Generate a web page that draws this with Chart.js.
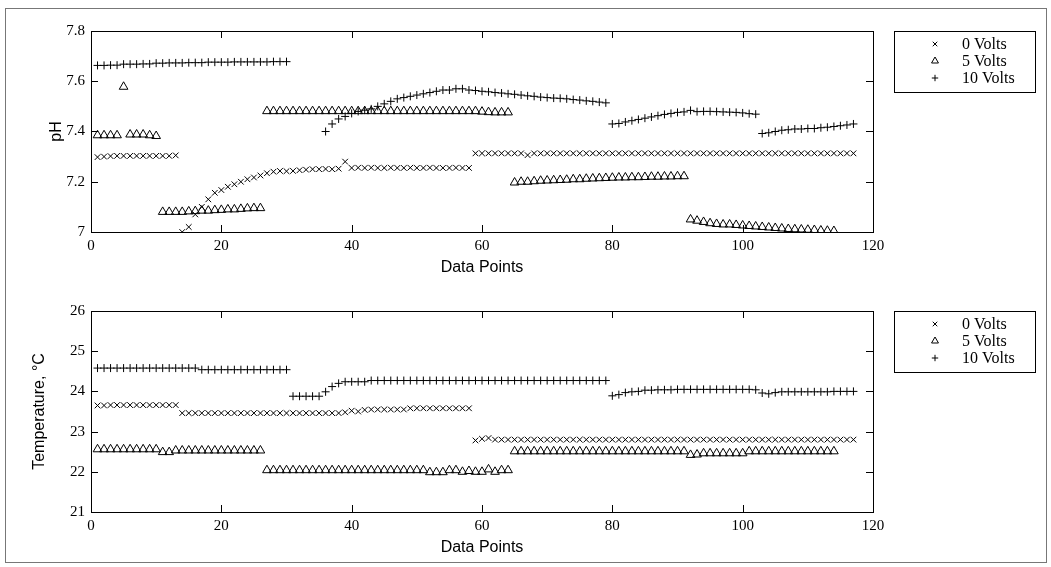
<!DOCTYPE html>
<html lang="en">
<head>
<meta charset="UTF-8">
<title>pH and Temperature</title>
<script src="https://cdn.jsdelivr.net/npm/chart.js"></script>
<style>
    body{margin:0; background:#fff;}
    #fig{position:relative; width:1051px; height:567px; overflow:hidden;}
    #fig canvas{position:absolute; left:0;}
    #phBox{top:0;}
    #tempBox{top:280px;}
    #frame{position:absolute; left:5px; top:8px; width:1040px; height:553px; border:1px solid #777; pointer-events:none;}
</style>
</head>
<body>
<div id="fig">
    <canvas id="phBox" width="1051" height="280"></canvas>
    <canvas id="tempBox" width="1051" height="287"></canvas>
    <div id="frame"></div>
</div>
<script>
// runs: [first data point, values...]
const seriesNames = ['0 Volts', '5 Volts', '10 Volts'];
const xTicks = [0, 20, 40, 60, 80, 100, 120];
const phTicks = [7, 7.2, 7.4, 7.6, 7.8];
const tempTicks = [21, 22, 23, 24, 25, 26];

// pH, 0 Volts
const ph0 = [
    [1, [7.298, 7.300, 7.302, 7.303, 7.303, 7.303, 7.303, 7.303, 7.303, 7.303, 7.303, 7.303, 7.305]],
    [14, [7.00, 7.02, 7.07, 7.10, 7.13, 7.156, 7.167, 7.18, 7.19, 7.20, 7.21, 7.217, 7.225, 7.234, 7.24, 7.243,
          7.242, 7.243, 7.246, 7.248, 7.250, 7.250, 7.251, 7.250, 7.252, 7.28,
          7.255, 7.256, 7.255, 7.256, 7.255, 7.255, 7.256, 7.255, 7.255, 7.256, 7.255, 7.255, 7.256, 7.255, 7.255, 7.255, 7.256, 7.255, 7.255]],
    [59, [7.313, 7.313, 7.313, 7.313, 7.313, 7.313, 7.313, 7.313, 7.306, 7.313, 7.313, 7.313, 7.313, 7.313, 7.313, 7.313, 7.313, 7.313, 7.313, 7.313,
          7.313, 7.313, 7.313, 7.313, 7.313, 7.313, 7.313, 7.313, 7.313, 7.313, 7.313, 7.313, 7.313, 7.313, 7.313, 7.313, 7.313, 7.313, 7.313, 7.313,
          7.313, 7.313, 7.313, 7.313, 7.313, 7.313, 7.313, 7.313, 7.313, 7.313, 7.313, 7.313, 7.313, 7.313, 7.313, 7.313, 7.313, 7.313, 7.313]]
];
// pH, 5 Volts
const ph5 = [
    [1, [7.385, 7.385, 7.385, 7.385, 7.578, 7.388, 7.388, 7.388, 7.385, 7.382]],
    [11, [7.080, 7.080, 7.080, 7.080, 7.082, 7.083, 7.085, 7.085, 7.087, 7.088, 7.090, 7.090, 7.092, 7.094, 7.095, 7.095]],
    [27, [7.481, 7.481, 7.481, 7.481, 7.481, 7.481, 7.481, 7.481, 7.481, 7.481, 7.481, 7.481, 7.481, 7.481, 7.481, 7.481, 7.481, 7.481, 7.481,
          7.481, 7.481, 7.481, 7.481, 7.481, 7.481, 7.481, 7.481, 7.481, 7.481, 7.481, 7.481, 7.481, 7.481, 7.479, 7.477, 7.476, 7.476, 7.476]],
    [65, [7.197, 7.200, 7.200, 7.202, 7.204, 7.205, 7.206, 7.207, 7.208, 7.210, 7.210, 7.212, 7.213, 7.214, 7.215, 7.216, 7.217, 7.217,
          7.218, 7.218, 7.219, 7.220, 7.220, 7.221, 7.221, 7.222, 7.222]],
    [92, [7.050, 7.045, 7.040, 7.035, 7.032, 7.030, 7.030, 7.028, 7.026, 7.024, 7.022, 7.020, 7.018, 7.016, 7.014, 7.012, 7.011, 7.010,
          7.009, 7.008, 7.006, 7.005, 7.004]]
];
// pH, 10 Volts
const ph10 = [
    [1, [7.663, 7.663, 7.664, 7.664, 7.668, 7.668, 7.668, 7.669, 7.669, 7.672, 7.672, 7.673, 7.673, 7.673, 7.674, 7.674, 7.674, 7.676,
         7.676, 7.676, 7.676, 7.677, 7.677, 7.677, 7.677, 7.677, 7.677, 7.678, 7.678, 7.678]],
    [36, [7.400, 7.430, 7.450, 7.460, 7.472, 7.480, 7.485, 7.490, 7.500, 7.510, 7.520, 7.530, 7.535, 7.540, 7.545, 7.550, 7.555, 7.560,
          7.565, 7.565, 7.570, 7.570, 7.565, 7.563, 7.560, 7.558, 7.555, 7.553, 7.550, 7.548, 7.545, 7.542, 7.540, 7.537, 7.535, 7.533,
          7.532, 7.530, 7.527, 7.525, 7.522, 7.520, 7.517, 7.514]],
    [80, [7.430, 7.432, 7.438, 7.443, 7.448, 7.453, 7.458, 7.463, 7.468, 7.472, 7.476, 7.478, 7.484, 7.479, 7.480, 7.480, 7.479, 7.478,
          7.477, 7.476, 7.474, 7.471, 7.469]],
    [103, [7.392, 7.395, 7.400, 7.405, 7.407, 7.410, 7.410, 7.412, 7.412, 7.415, 7.417, 7.420, 7.423, 7.426, 7.430]]
];

// Temperature, 0 Volts
const temp0 = [
    [1, [23.65, 23.65, 23.66, 23.66, 23.66, 23.66, 23.66, 23.66, 23.66, 23.66, 23.66, 23.66, 23.66]],
    [14, [23.46, 23.46, 23.46, 23.46, 23.46, 23.46, 23.46, 23.46, 23.46, 23.46, 23.46, 23.46, 23.46, 23.46, 23.46, 23.46, 23.46, 23.46,
          23.46, 23.46, 23.46, 23.46, 23.46, 23.46, 23.46, 23.48, 23.52, 23.50, 23.54, 23.55, 23.55, 23.55, 23.55, 23.55, 23.55, 23.58,
          23.58, 23.58, 23.58, 23.58, 23.58, 23.58, 23.58, 23.58, 23.58]],
    [59, [22.78, 22.82, 22.84, 22.80, 22.80, 22.80, 22.80, 22.80, 22.80, 22.80, 22.80, 22.80, 22.80, 22.80, 22.80, 22.80, 22.80, 22.80,
          22.80, 22.80, 22.80, 22.80, 22.80, 22.80, 22.80, 22.80, 22.80, 22.80, 22.80, 22.80, 22.80, 22.80, 22.80, 22.80, 22.80, 22.80,
          22.80, 22.80, 22.80, 22.80, 22.80, 22.80, 22.80, 22.80, 22.80, 22.80, 22.80, 22.80, 22.80, 22.80, 22.80, 22.80, 22.80, 22.80,
          22.80, 22.80, 22.80, 22.80, 22.80]]
];
// Temperature, 5 Volts
const temp5 = [
    [1, [22.56, 22.56, 22.56, 22.56, 22.56, 22.56, 22.56, 22.56, 22.56, 22.56, 22.49, 22.49, 22.53, 22.53, 22.53, 22.53, 22.53, 22.53,
         22.53, 22.53, 22.53, 22.53, 22.53, 22.53, 22.53, 22.53]],
    [27, [22.04, 22.04, 22.04, 22.04, 22.04, 22.04, 22.04, 22.04, 22.04, 22.04, 22.04, 22.04, 22.04, 22.04, 22.04, 22.04, 22.04, 22.04,
          22.04, 22.04, 22.04, 22.04, 22.04, 22.04, 22.04, 21.99, 21.99, 21.99, 22.04, 22.04, 22.00, 22.02, 22.00, 22.00, 22.06, 22.00,
          22.04, 22.04]],
    [65, [22.51, 22.51, 22.51, 22.51, 22.51, 22.51, 22.51, 22.51, 22.51, 22.51, 22.51, 22.51, 22.51, 22.51, 22.51, 22.51, 22.51, 22.51,
          22.51, 22.51, 22.51, 22.51, 22.51, 22.51, 22.51, 22.51, 22.51, 22.42, 22.43, 22.46, 22.46, 22.46, 22.46, 22.46, 22.46, 22.46,
          22.51, 22.51, 22.51, 22.51, 22.51, 22.51, 22.51, 22.51, 22.51, 22.51, 22.51, 22.51, 22.51, 22.51]]
];
// Temperature, 10 Volts
const temp10 = [
    [1, [24.58, 24.58, 24.58, 24.58, 24.58, 24.58, 24.58, 24.58, 24.58, 24.58, 24.58, 24.58, 24.58, 24.58, 24.58, 24.58, 24.54, 24.54,
         24.54, 24.54, 24.54, 24.54, 24.54, 24.54, 24.54, 24.54, 24.54, 24.54, 24.54, 24.54]],
    [31, [23.88, 23.88, 23.88, 23.88, 23.88, 23.99, 24.12, 24.20, 24.24, 24.24, 24.24, 24.24, 24.27, 24.27, 24.27, 24.27, 24.27, 24.27,
          24.27, 24.27, 24.27, 24.27, 24.27, 24.27, 24.27, 24.27, 24.27, 24.27, 24.27, 24.27, 24.27, 24.27, 24.27, 24.27, 24.27, 24.27,
          24.27, 24.27, 24.27, 24.27, 24.27, 24.27, 24.27, 24.27, 24.27, 24.27, 24.27, 24.27, 24.27]],
    [80, [23.89, 23.92, 23.97, 23.99, 24.00, 24.03, 24.03, 24.04, 24.04, 24.04, 24.05, 24.05, 24.05, 24.05, 24.05, 24.05, 24.05, 24.05,
          24.05, 24.05, 24.05, 24.05, 24.04]],
    [103, [23.96, 23.94, 23.97, 23.99, 23.99, 23.99, 23.99, 23.99, 23.99, 23.99, 23.99, 24.00, 24.00, 24.00, 24.00]]
];

const markers = [
    {pointStyle: 'crossRot', radius: 4},
    {pointStyle: 'triangle', radius: 5},
    {pointStyle: 'cross', radius: 4}
];

function toPoints(runs){
    let pts = [];
    runs.forEach(function(run){
        run[1].forEach(function(v, i){ pts.push({x: run[0] + i, y: v}); });
    });
    return pts;
}

// box round the axes, inward ticks on all four sides, and a boxed legend
const matFrame = {
    id: 'matFrame',
    afterDatasetsDraw(chart){
        const ctx = chart.ctx, a = chart.chartArea;
        const xs = chart.scales.x, ys = chart.scales.y;
        const tl = 7;
        ctx.save();
        ctx.strokeStyle = '#000';
        ctx.lineWidth = 1;
        ctx.strokeRect(Math.round(a.left) + 0.5, Math.round(a.top) + 0.5, Math.round(a.right - a.left), Math.round(a.bottom - a.top));
        ctx.beginPath();
        xTicks.forEach(function(v){
            const px = Math.round(xs.getPixelForValue(v)) + 0.5;
            ctx.moveTo(px, a.bottom); ctx.lineTo(px, a.bottom - tl);
            ctx.moveTo(px, a.top); ctx.lineTo(px, a.top + tl);
        });
        ys.ticks.forEach(function(t){
            const py = Math.round(ys.getPixelForValue(t.value)) + 0.5;
            ctx.moveTo(a.left, py); ctx.lineTo(a.left + tl, py);
            ctx.moveTo(a.right, py); ctx.lineTo(a.right - tl, py);
        });
        ctx.stroke();

        // legend
        const lg = chart.options.plugins.matFrame;
        ctx.fillStyle = '#fff';
        ctx.fillRect(lg.left, lg.top, lg.width, lg.height);
        ctx.strokeRect(lg.left + 0.5, lg.top + 0.5, lg.width, lg.height);
        ctx.font = '16px "Liberation Serif"';
        ctx.textBaseline = 'middle';
        chart.data.datasets.forEach(function(ds, i){
            const y = lg.top + 13 + i * 17;
            ctx.fillStyle = 'rgba(0,0,0,0)';
            ctx.strokeStyle = '#000';
            Chart.helpers.drawPoint(ctx, {pointStyle: ds.pointStyle, radius: ds.pointRadius * 0.8, rotation: 0, borderWidth: 1}, lg.left + 41, y);
            ctx.fillStyle = '#000';
            ctx.fillText(ds.label, lg.left + 68, y + 1);
        });
        ctx.restore();
    }
};

function makeChart(id, runsList, yMin, yMax, yTicks, yTitle, titlePad, bottomH, bottomPad){
    const datasets = runsList.map(function(runs, i){
        return {
            label: seriesNames[i],
            data: toPoints(runs),
            pointStyle: markers[i].pointStyle,
            pointRadius: markers[i].radius,
            pointBorderWidth: 1,
            borderColor: '#000',
            backgroundColor: 'rgba(0,0,0,0)',
            showLine: false
        };
    });
    return new Chart(document.getElementById(id), {
        type: 'scatter',
        data: {datasets: datasets},
        plugins: [matFrame],
        options: {
            responsive: false,
            animation: false,
            layout: {padding: {left: 0, right: 178, top: 31, bottom: 0}},
            plugins: {
                legend: {display: false},
                tooltip: {enabled: false},
                matFrame: {left: 894, top: 31, width: 141, height: 61}
            },
            scales: {
                x: {
                    type: 'linear', min: 0, max: 120,
                    afterBuildTicks: function(s){ s.ticks = xTicks.map(function(v){ return {value: v}; }); },
                    grid: {display: false, drawTicks: false},
                    border: {display: false},
                    ticks: {color: '#000', padding: 5, maxRotation: 0, font: {family: 'Liberation Serif', size: 15}},
                    title: {display: true, text: 'Data Points', color: '#000', padding: {top: 0, bottom: bottomPad},
                            font: {family: 'Liberation Sans', size: 16}},
                    afterFit: function(s){ s.height = bottomH; }
                },
                y: {
                    min: yMin, max: yMax,
                    afterBuildTicks: function(s){ s.ticks = yTicks.map(function(v){ return {value: v}; }); },
                    grid: {display: false, drawTicks: false},
                    border: {display: false},
                    ticks: {color: '#000', padding: 6, font: {family: 'Liberation Serif', size: 15},
                            callback: function(v){ return String(+v.toFixed(1)); }},
                    title: {display: true, text: yTitle, color: '#000', padding: {top: titlePad, bottom: 0},
                            font: {family: 'Liberation Sans', size: 16}},
                    afterFit: function(s){ s.width = 91; }
                }
            }
        }
    });
}

makeChart('phBox', [ph0, ph5, ph10], 7, 7.8, phTicks, 'pH', 47, 48, 2.4);
makeChart('tempBox', [temp0, temp5, temp10], 21, 26, tempTicks, 'Temperature, \u00B0C', 30, 55, 9.4);
</script>
</body>
</html>
